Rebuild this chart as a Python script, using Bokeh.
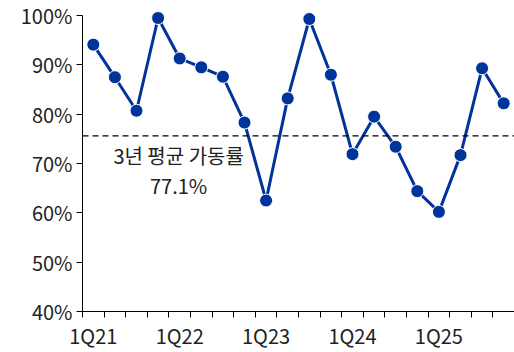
from bokeh.plotting import figure
from bokeh.models import Range1d, FixedTicker, PrintfTickFormatter, Span, Label
from bokeh.embed import file_html
from bokeh.resources import INLINE

quarters = ["1Q21", "2Q21", "3Q21", "4Q21", "1Q22", "2Q22", "3Q22", "4Q22",
            "1Q23", "2Q23", "3Q23", "4Q23", "1Q24", "2Q24", "3Q24", "4Q24",
            "1Q25", "2Q25", "3Q25", "4Q25"]
utilization = [94.1, 87.5, 80.7, 99.5, 91.3, 89.5, 87.6, 78.3,
               62.5, 83.2, 99.3, 88.0, 71.9, 79.5, 73.4, 64.4,
               60.2, 71.7, 89.3, 82.2]
avg_line = 75.6
avg_label = ["3년 평균 가동률", "77.1%"]
y_ticks = [40, 50, 60, 70, 80, 90, 100]

FONT = "Noto Sans CJK KR"
BLUE = "#00349A"
TXT = "#222222"

xs = list(range(len(quarters)))

p = figure(width=514, height=352, output_backend="svg", toolbar_location=None,
           x_range=Range1d(-0.5, len(quarters) - 0.5), y_range=Range1d(40, 103.05),
           min_border_left=82, min_border_right=0, min_border_top=0, min_border_bottom=39)
p.outline_line_color = None
p.xgrid.visible = False
p.ygrid.visible = False
p.background_fill_color = "white"
p.border_fill_color = "white"

p.line(xs, utilization, line_color=BLUE, line_width=3)
p.scatter(xs, utilization, size=13, fill_color=BLUE, line_color="white", line_width=1)

p.add_layout(Span(location=avg_line, dimension="width", line_color="black",
                  line_width=1.3, line_dash="6 4"))

p.add_layout(Label(x=3.95, y=71.6, text=avg_label[0], text_align="center",
                   text_baseline="middle", text_font=FONT, text_font_size="20px",
                   text_color=TXT))
p.add_layout(Label(x=3.95, y=65.6, text=avg_label[1], text_align="center",
                   text_baseline="middle", text_font=FONT, text_font_size="20px",
                   text_color=TXT))

# x axis: labels at first quarter of each year, ticks at category boundaries
label_pos = [i for i, q in enumerate(quarters) if q.startswith("1Q")]
p.xaxis.ticker = FixedTicker(ticks=label_pos,
                             minor_ticks=[i - 0.5 for i in range(len(quarters) + 1)])
p.xaxis.major_label_overrides = {i: quarters[i] for i in label_pos}
p.xaxis.major_tick_out = 0
p.xaxis.major_tick_in = 0
p.xaxis.minor_tick_out = 6
p.xaxis.minor_tick_in = 0
p.xaxis.minor_tick_line_color = "black"
p.xaxis.axis_line_color = "black"
p.xaxis.major_label_text_font = FONT
p.xaxis.major_label_text_font_size = "20px"
p.xaxis.major_label_text_color = TXT
p.xaxis.major_label_standoff = 3

p.yaxis.ticker = FixedTicker(ticks=y_ticks)
p.yaxis.bounds = (40, 100)
p.yaxis.formatter = PrintfTickFormatter(format="%d%%")
p.yaxis.major_tick_out = 6
p.yaxis.major_tick_in = 0
p.yaxis.minor_tick_out = 0
p.yaxis.minor_tick_in = 0
p.yaxis.axis_line_color = "black"
p.yaxis.major_label_text_font = FONT
p.yaxis.major_label_text_font_size = "20px"
p.yaxis.major_label_text_color = TXT
p.yaxis.major_label_standoff = 4

open("out.html", "w").write(file_html(p, INLINE))
